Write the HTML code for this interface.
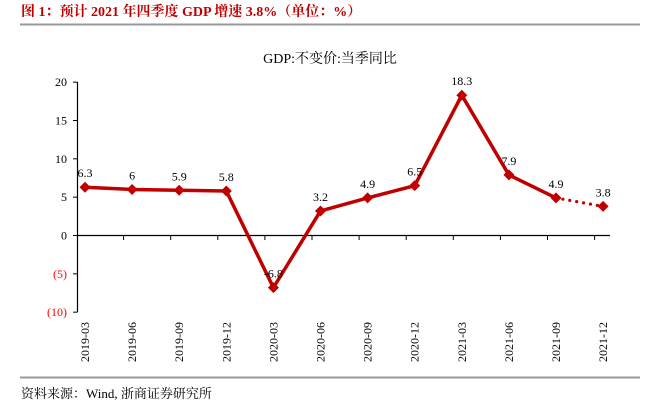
<!DOCTYPE html>
<html><head><meta charset="utf-8"><style>
body{margin:0;width:649px;height:416px;background:#fff;overflow:hidden;font-family:"Liberation Serif","Noto Serif CJK SC",serif}
</style></head><body>
<svg width="649" height="416" style="position:absolute;left:0;top:0">
<text x="21" y="16" font-size="14" font-weight="bold" fill="#c00000">图 1：预计 2021 年四季度 GDP 增速 3.8%（单位：%）</text>
<line x1="20" y1="24.5" x2="640" y2="24.5" stroke="#999" stroke-width="2"/>
<text x="330" y="63" font-size="14" text-anchor="middle" fill="#000">GDP:不变价:当季同比</text>
<g id="axes"></g>
<g id="marks"></g>
<line x1="20" y1="377.5" x2="640" y2="377.5" stroke="#999" stroke-width="2"/>
<text x="21" y="398" font-size="13" fill="#000">资料来源：Wind, 浙商证券研究所</text>
</svg>
<script>
const categories=["2019-03","2019-06","2019-09","2019-12","2020-03","2020-06","2020-09","2020-12","2021-03","2021-06","2021-09","2021-12"];
const values=[6.3,6,5.9,5.8,-6.8,3.2,4.9,6.5,18.3,7.9,4.9,3.8];
const valueLabels=["6.3","6","5.9","5.8","-6.8","3.2","4.9","6.5","18.3","7.9","4.9","3.8"];
const yTicks=[20,15,10,5,0,-5,-10];
const yTickLabels=["20","15","10","5","0","(5)","(10)"];
const NS="http://www.w3.org/2000/svg";
const y=v=>235.5-(v)*7.667;
const x=i=>85+i*47.1;
const axes=document.getElementById('axes'),marks=document.getElementById('marks');
function mk(tag,attrs,parent,text){const e=document.createElementNS(NS,tag);for(const k in attrs)e.setAttribute(k,attrs[k]);if(text!=null)e.textContent=text;parent.appendChild(e);return e;}
let e=mk('line',{x1:77.5,y1:y(20),x2:77.5,y2:y(-10),stroke:'#000','stroke-width':1.2},axes);


e=mk('line',{x1:77.5,y1:y(0),x2:610,y2:y(0),stroke:'#000','stroke-width':1.2},axes);


yTicks.forEach((t,i)=>{
 mk('line',{x1:73,y1:y(t),x2:77.5,y2:y(t),stroke:'#000'},axes);
 const tx=mk('text',{x:67,y:y(t)+4,'font-size':12,'text-anchor':'end',fill:t<0?'#ff0000':'#000'},axes,yTickLabels[i]);
 
 
});
categories.forEach((c,i)=>{
 if(i>0) mk('line',{x1:x(i)-8.5,y1:y(0),x2:x(i)-8.5,y2:y(0)+4.5,stroke:'#000'},axes);
 const tx=mk('text',{transform:`translate(${x(i)+4},322) rotate(-90)`,'font-size':12,'text-anchor':'end',fill:'#000'},axes,c);
 
 
});
const n=values.length;
let d=values.slice(0,n-1).map((v,i)=>(i?'L':'M')+x(i)+','+y(v)).join(' ');
e=mk('path',{d:d,fill:'none',stroke:'#c00000','stroke-width':3.5,'stroke-linejoin':'round'},marks);


e=mk('line',{x1:x(n-2),y1:y(values[n-2]),x2:x(n-1),y2:y(values[n-1]),stroke:'#c00000','stroke-width':3.2,'stroke-dasharray':'0 7','stroke-linecap':'round'},marks);


values.forEach((v,i)=>{
 const px=x(i),py=y(v);
 const p=mk('path',{d:`M${px},${py-5.5}L${px+5.5},${py}L${px},${py+5.5}L${px-5.5},${py}Z`,fill:'#c00000'},marks);
 
 
 const t=mk('text',{x:px,y:py-10,'font-size':12,'text-anchor':'middle',fill:'#000'},marks,valueLabels[i]);
 
 
});
</script>
</body></html>
